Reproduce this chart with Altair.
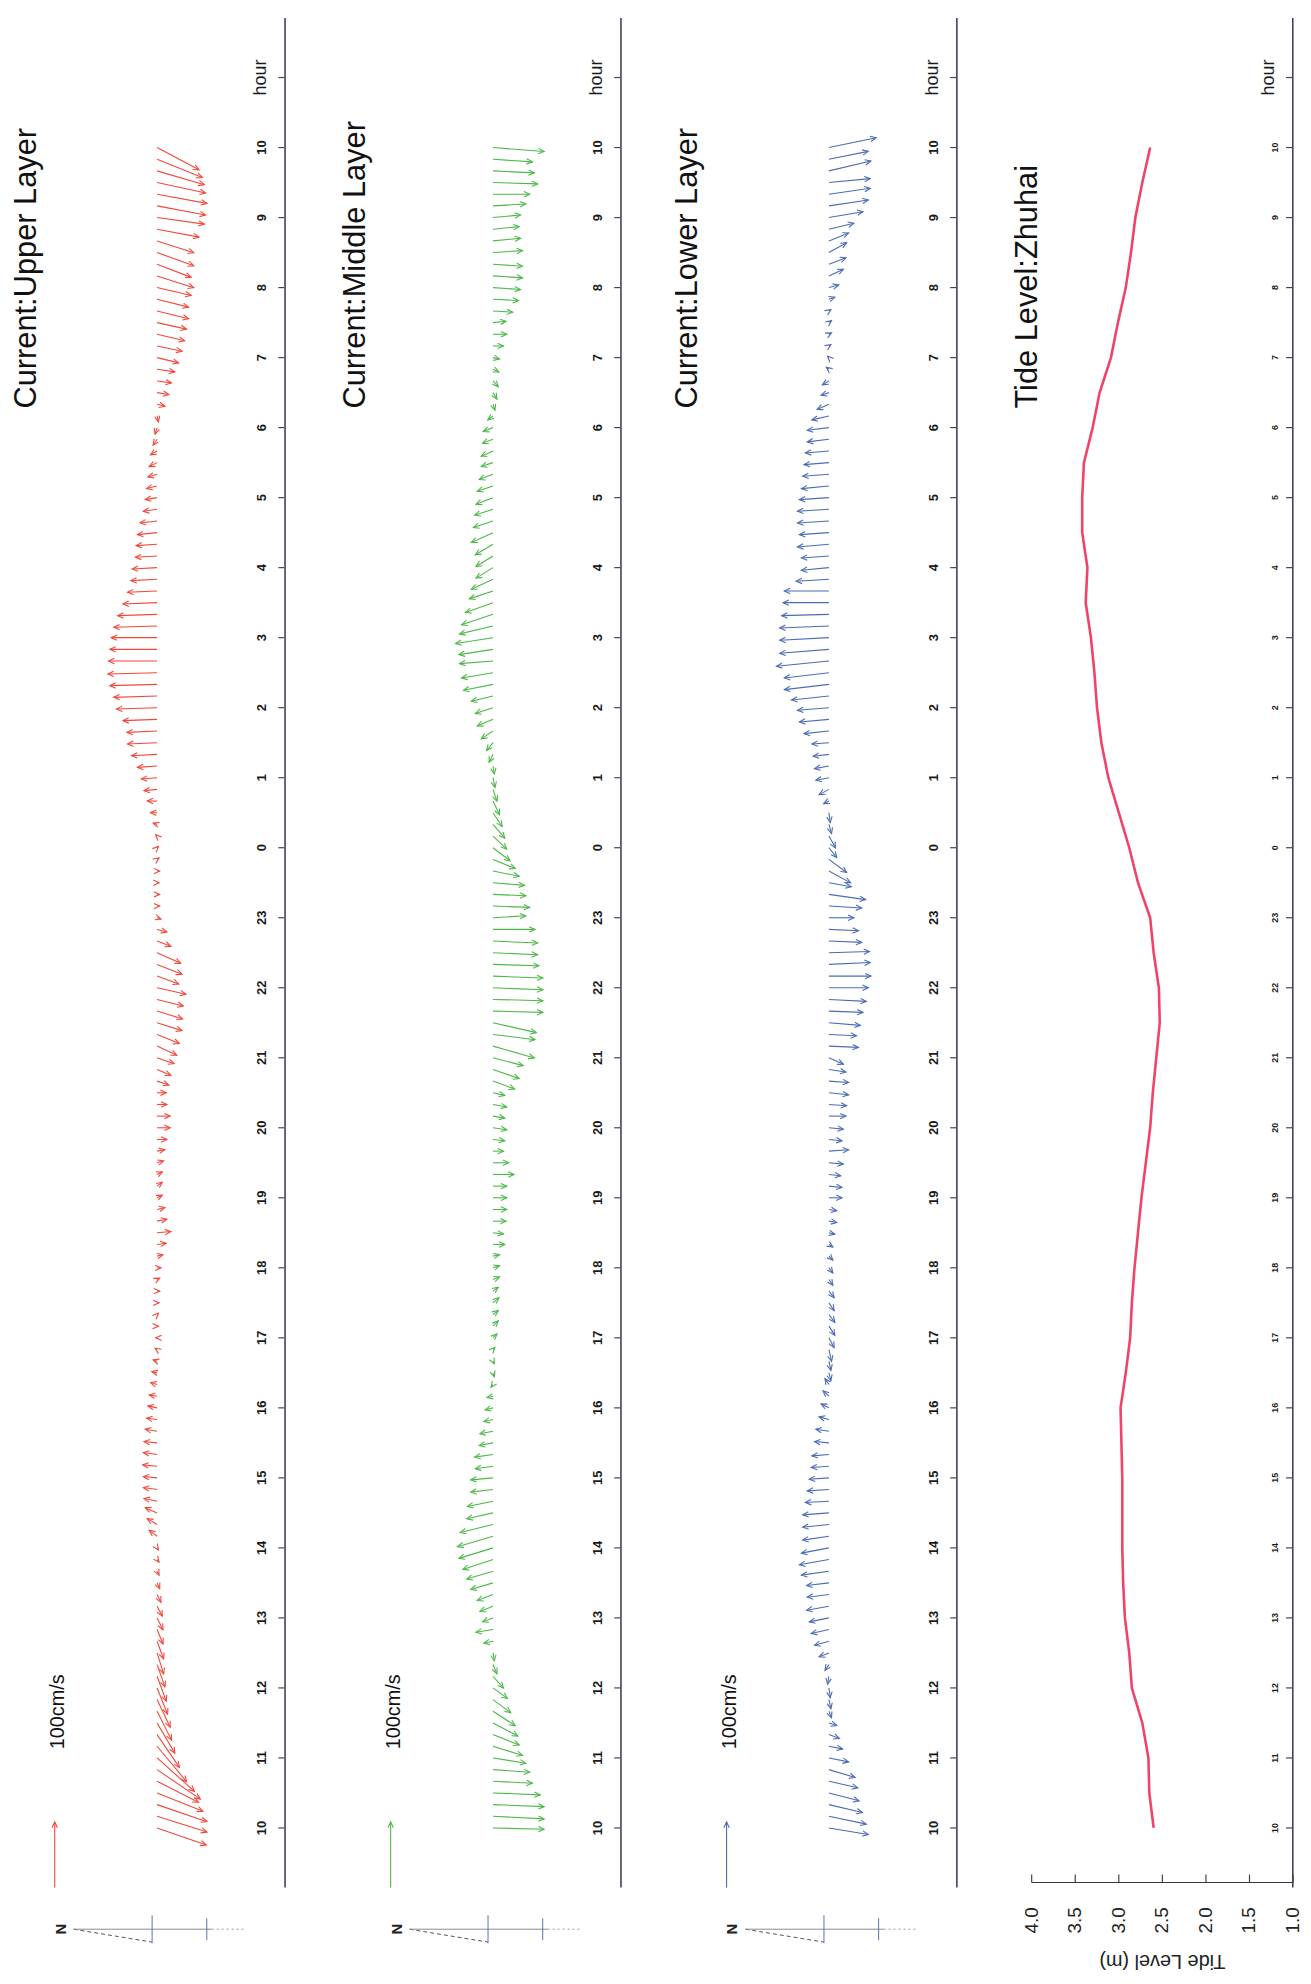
import altair as alt
import pandas as pd

# ---------------- data ----------------
# one stick every 10 minutes, starting 10:00 day 1 (t = 0 h) to 10:00 day 2 (t = 24 h)
# velocity components in cm/s: north (+ = north), east (+ = east)
upper_north = [-75, -76, -76, -70, -63, -66, -57, -45, -34, -27,
               -22, -20, -16, -14, -12, -10, -10, -9, -9, -8,
               -6, -4, -3, -3, -2, 12, 15, 18, 20, 21,
               21, 22, 21, 20, 18, 16, 14, 12, 10, 8,
               6, 3, 2, -2, -2, -3, -4, -4, -6, -9,
               -14, -21, -15, -12, -8, -8, -8, -10, -12, -15,
               -20, -20, -15, -14, -18, -21, -26, -30, -34, -38,
               -39, -40, -44, -33, -38, -36, -21, -15, -6, -4,
               -4, -3, -4, -3, -2, 2, 6, 10, 15, 20,
               24, 30, 39, 45, 46, 52, 62, 66, 72, 75,
               74, 72, 70, 66, 60, 52, 45, 40, 38, 33,
               32, 30, 26, 21, 18, 16, 14, 12, 10, 6,
               3, -2, -12, -18, -22, -27, -33, -38, -42, -45,
               -48, -48, -52, -56, -52, -56, -56, -64, -72, -74,
               -76, -74, -72, -69, -64]
upper_east = [-26, -24, -26, -28, -32, -45, -51, -54, -50, -46,
              -44, -42, -40, -38, -34, -32, -27, -22, -18, -15,
              -12, -9, -6, -4, -3, 9, 9, 8, 4, 3,
              2, 2, 3, 2, 3, 2, 3, 2, 3, 2,
              2, 2, 0, 0, 2, 0, 0, 2, 0, 2,
              2, 2, 3, 3, 4, 6, 4, 3, 2, 0,
              0, 0, 0, 0, -6, -9, -9, -14, -14, -12,
              -12, -10, -10, -12, -15, -16, -8, -4, -2, 0,
              0, 0, 0, 2, 2, 2, 2, 0, 0, -2,
              -2, -2, -2, -2, -2, -2, -2, -2, -2, -2,
              0, 0, 0, -2, -2, -2, -2, -2, -2, -2,
              -2, -3, -3, -3, -3, -4, -4, -6, -6, -9,
              -10, -9, -3, -3, -3, -4, -8, -8, -10, -10,
              -12, -12, -12, -18, -20, -20, -18, -12, -10, -14,
              -14, -16, -21, -28, -34]

middle_north = [-78, -78, -78, -72, -60, -56, -50, -45, -40, -38,
                -34, -27, -22, -16, -6, -2, 14, 26, 16, 20,
                24, 34, 40, 46, 52, 54, 50, 40, 39, 34,
                34, 27, 28, 21, 20, 14, 12, 9, 3, -2,
                -2, -3, -6, -8, -8, -9, -8, -10, -10, -10,
                -18, -16, -20, -21, -21, -21, -32, -24, -16, -18,
                -21, -18, -21, -18, -33, -40, -46, -63, -64, -66,
                -76, -76, -76, -76, -70, -68, -68, -64, -50, -56,
                -50, -48, -40, -34, -26, -21, -18, -14, -10, -6,
                -3, -2, 6, 10, 18, 24, 27, 33, 45, 48,
                51, 52, 57, 51, 48, 42, 36, 33, 26, 26,
                27, 33, 30, 28, 26, 24, 21, 18, 18, 16,
                15, 8, -3, -6, -8, -9, -10, -16, -21, -20,
                -30, -39, -42, -45, -45, -45, -42, -40, -42, -50,
                -56, -68, -63, -60, -78]
middle_east = [-2, -4, -3, -3, -3, -4, -8, -14, -16, -20,
               -22, -20, -16, -18, -14, -12, -3, -4, -6, -8,
               -9, -10, -12, -15, -16, -16, -12, -9, -8, -4,
               -3, -4, -4, -4, -4, -3, -3, -2, -4, -6,
               -4, 3, 6, 8, 6, 8, 6, 4, 3, 2,
               0, -2, 0, 0, 0, 0, 0, 0, 0, -2,
               -3, -3, -4, -4, -12, -14, -12, -18, -8, -15,
               -2, -2, -3, -3, -2, -3, -3, 0, 3, -2,
               -2, -4, -8, -14, -20, -20, -21, -21, -21, -18,
               -15, -12, -12, -12, -12, -10, -9, -8, -9, -8,
               -4, -8, -9, -12, -16, -15, -12, -15, -16, -16,
               -16, -15, -10, -9, -10, -8, -8, -6, -8, -6,
               -6, -6, -9, -10, -9, -4, -2, 0, 0, 2,
               -2, -2, -3, -3, -3, 3, 4, 4, 4, 3,
               0, -2, -3, -4, -6]

lower_north = [-60, -57, -51, -46, -44, -40, -30, -21, -16, -12,
               -4, -3, -2, 2, 6, 15, 22, 27, 30, 34,
               33, 34, 42, 45, 42, 40, 40, 40, 36, 33,
               30, 27, 26, 22, 20, 15, 12, 9, 6, -3,
               -3, -4, -8, -9, -9, -8, -8, -6, -6, -6,
               -6, -9, -12, -12, -20, -20, -18, -22, -30, -20,
               -22, -26, -27, -30, -30, -26, -22, -45, -42, -48,
               -52, -57, -60, -64, -63, -62, -50, -45, -38, -50,
               -56, -34, -33, -27, -12, -10, -4, -2, 8, 15,
               20, 22, 24, 26, 38, 45, 48, 57, 68, 68,
               80, 75, 75, 75, 72, 70, 68, 50, 42, 42,
               48, 45, 48, 48, 45, 42, 40, 38, 36, 33,
               33, 26, 18, 12, 10, 4, 2, -3, -4, -4,
               -3, -9, -15, -22, -26, -27, -30, -38, -52, -60,
               -63, -63, -64, -60, -72]
lower_east = [-10, -12, -12, -12, -10, -12, -6, -4, -6, -4,
              -10, -14, -15, -12, -9, -6, -6, -6, -6, -6,
              -4, -4, -6, -8, -8, -6, -4, -3, -2, -2,
              -2, -2, -2, 2, 3, 4, 6, 8, 9, -12,
              -14, -18, -15, -14, -12, -12, -10, -9, -8, -6,
              -4, -2, -2, -2, 0, -2, -2, -2, 2, -2,
              -2, 0, -2, -3, -2, -4, -10, -2, -2, -4,
              -2, -3, 0, 0, 3, 2, -2, -2, 0, -3,
              -8, -6, -18, -20, -15, -18, -14, -15, -4, -8,
              -4, -4, -3, -2, -4, -4, -4, -6, -8, -8,
              -8, -6, -4, -3, -2, 0, 0, -3, -4, -3,
              -4, -3, -3, -3, -3, -4, -3, -3, -3, -4,
              -4, -6, -8, -4, -6, 3, 2, 2, 2, 3,
              2, 3, 4, 10, 10, 15, 12, 9, 9, 9,
              9, 6, 15, 12, 15]

# tide level at Zhuhai (m), hours after 10:00
tide_time = [0, 0.5, 1, 1.5, 2, 2.5, 3, 3.5, 4, 4.5, 5, 5.5, 6, 6.5, 7, 7.5, 8, 8.5,
             9, 9.5, 10, 10.5, 11, 11.5, 12, 12.5, 13, 13.5, 14, 14.5, 15, 15.5, 16,
             16.5, 17, 17.5, 18, 18.5, 19, 19.5, 20, 20.5, 21, 21.5, 22, 22.5, 23, 23.5, 24]
tide_level = [2.60, 2.65, 2.66, 2.73, 2.85, 2.88, 2.93, 2.95, 2.96, 2.96, 2.96, 2.97, 2.98,
              2.92, 2.87, 2.85, 2.82, 2.78, 2.74, 2.69, 2.64, 2.61, 2.57, 2.53, 2.54, 2.60,
              2.64, 2.78, 2.88, 3.00, 3.12, 3.20, 3.25, 3.28, 3.32, 3.38, 3.36, 3.42, 3.42,
              3.40, 3.30, 3.22, 3.09, 3.01, 2.92, 2.86, 2.81, 2.73, 2.64]
tide_ticks = [1.0, 1.5, 2.0, 2.5, 3.0, 3.5, 4.0]
hour_ticks = list(range(0, 26))   # 10,11,...,23,0,...,10, then "hour"

panels = [
    ("Current:Upper Layer", "#F4473A", upper_north, upper_east, 28),
    ("Current:Middle Layer", "#4DB848", middle_north, middle_east, 21),
    ("Current:Lower Layer", "#4B6CB4", lower_north, lower_east, 17),
]
TIDE_TITLE = "Tide Level:Zhuhai"
TIDE_AXIS_TITLE = "Tide Level (m)"
TIDE_COLOR = "#EF4468"

# ---------------- layout constants ----------------
FONT = "Liberation Sans"
PANEL_W = 279
PANEL_H = 1881
T_DOMAIN = [-0.85, 25.85]
PX_PER_HOUR = PANEL_H / (T_DOMAIN[1] - T_DOMAIN[0])
PX_PER_CMS = 0.66          # 100 cm/s = 66 px
K = PX_PER_CMS / PX_PER_HOUR  # hours per cm/s along the time axis
BASE_X = 150
NORTH_DOMAIN = [-(PANEL_W - BASE_X) / PX_PER_CMS, BASE_X / PX_PER_CMS]
HEAD = "M-0.6,1.3L0,0L0.6,1.3"
HEAD_SIZE = 81
AXIS_COLOR = "#33374a"
TICK_COLOR = "#444444"
TIDE_X0 = 16

y_scale = alt.Scale(domain=T_DOMAIN, nice=False, zero=False)


def time_axis_layers(label_size, pad):
    """Right-hand time axis: line, inward ticks and rotated labels, all through the time scale."""
    hours = alt.Chart(pd.DataFrame({"h": hour_ticks})).transform_calculate(
        lab="datum.h == 25 ? 'hour' : '' + ((datum.h + 10) % 24)")
    ticks = hours.mark_rule(color=TICK_COLOR, strokeWidth=1.2).encode(
        y=alt.Y("h:Q", scale=y_scale, axis=None), y2=alt.Y2("h:Q"),
        x=alt.value(PANEL_W - 7), x2=alt.value(PANEL_W - 1))
    nums = hours.transform_filter("datum.h < 25").mark_text(
        angle=270, align="center", baseline="alphabetic", fontSize=label_size,
        fontWeight="bold", font=FONT, color="#1a1a1a").encode(
        y=alt.Y("h:Q", scale=y_scale, axis=None), x=alt.value(PANEL_W - pad), text="lab:N")
    unit = hours.transform_filter("datum.h == 25").mark_text(
        angle=270, align="center", baseline="alphabetic", fontSize=18,
        font=FONT, color="#1a1a1a").encode(
        y=alt.Y("h:Q", scale=y_scale, axis=None), x=alt.value(PANEL_W - 19), text="lab:N")
    line = alt.Chart(pd.DataFrame({"a": [0]})).mark_rect(
        color=AXIS_COLOR, strokeWidth=0).encode(
        x=alt.value(PANEL_W - 1), x2=alt.value(PANEL_W + 0.5),
        y=alt.value(0), y2=alt.value(PANEL_H))
    return [line, ticks, nums, unit]


def title_layer(text, x):
    return alt.Chart(pd.DataFrame({"label": [text]})).mark_text(
        angle=270, align="left", baseline="alphabetic", fontSize=31, font=FONT, color="#111"
    ).encode(x=alt.value(x), y=alt.value(393), text="label:N")


def current_panel(title, color, north, east, title_x):
    df = pd.DataFrame({"t": [i / 6 for i in range(len(north))], "north": north, "east": east})
    x_scale = alt.Scale(domain=NORTH_DOMAIN, reverse=True, nice=False, zero=False)
    base = alt.Chart(df).transform_calculate(
        zero="0",
        tip_t=f"datum.t + datum.east * {K}",
        ang="(atan2(-datum.north, datum.east) * 180 / PI + 360) % 360",
    )
    sticks = base.mark_rule(color=color, strokeWidth=1.1).encode(
        x=alt.X("zero:Q", scale=x_scale, axis=None),
        x2="north:Q",
        y=alt.Y("t:Q", scale=y_scale, axis=None),
        y2="tip_t:Q",
    )
    heads = base.mark_point(shape=HEAD, filled=False, size=HEAD_SIZE, strokeWidth=1.1,
                            color=color, opacity=1).encode(
        x=alt.X("north:Q", scale=x_scale, axis=None),
        y=alt.Y("tip_t:Q", scale=y_scale, axis=None),
        angle=alt.Angle("ang:Q", scale=None),
    )
    # 100 cm/s reference arrow (eastward), drawn through the time scale
    ref = alt.Chart(pd.DataFrame({"t": [T_DOMAIN[0]], "east": [100]})).transform_calculate(
        tip_t=f"datum.t + datum.east * {K}")
    ref_rule = ref.mark_rule(color=color, strokeWidth=1.1).encode(
        x=alt.value(47), x2=alt.value(47), y=alt.Y("t:Q", scale=y_scale, axis=None), y2="tip_t:Q")
    ref_head = ref.mark_point(shape=HEAD, filled=False, size=HEAD_SIZE, strokeWidth=1.1,
                              color=color, opacity=1).encode(
        x=alt.value(47), y=alt.Y("tip_t:Q", scale=y_scale, axis=None), angle=alt.value(0))
    ref_text = alt.Chart(pd.DataFrame({"label": ["100cm/s"]})).mark_text(
        angle=270, align="left", baseline="alphabetic", fontSize=20, font=FONT, color="#111"
    ).encode(x=alt.value(56), y=alt.value(1742), text="label:N")
    # north indicator below the panel
    n_text = alt.Chart(pd.DataFrame({"label": ["N"]})).mark_text(
        angle=270, align="center", baseline="alphabetic", fontSize=15, fontWeight="bold",
        font=FONT, color="#222").encode(x=alt.value(58), y=alt.value(1923), text="label:N")
    n_dash = alt.Chart(pd.DataFrame({"a": [0]})).mark_rule(
        color="#555", strokeWidth=1, strokeDash=[4, 3]).encode(
        x=alt.value(66), x2=alt.value(145), y=alt.value(1923), y2=alt.value(1936))
    n_line = alt.Chart(pd.DataFrame({"a": [0]})).mark_rule(color="#8a8a9a", strokeWidth=1).encode(
        x=alt.value(66), x2=alt.value(205), y=alt.value(1923), y2=alt.value(1923))
    n_dot = alt.Chart(pd.DataFrame({"a": [0]})).mark_rule(
        color="#9a9aaa", strokeWidth=1, strokeDash=[2, 3]).encode(
        x=alt.value(205), x2=alt.value(240), y=alt.value(1923), y2=alt.value(1923))
    n_tick1 = alt.Chart(pd.DataFrame({"a": [0]})).mark_rule(color="#6070a8", strokeWidth=1).encode(
        x=alt.value(145), x2=alt.value(145), y=alt.value(1909), y2=alt.value(1937))
    n_tick2 = alt.Chart(pd.DataFrame({"a": [0]})).mark_rule(color="#6070a8", strokeWidth=1).encode(
        x=alt.value(200), x2=alt.value(200), y=alt.value(1912), y2=alt.value(1934))
    layers = time_axis_layers(13, 19) + [sticks, heads, ref_rule, ref_head, ref_text, n_text,
                                         n_dash, n_line, n_dot, n_tick1, n_tick2,
                                         title_layer(title, title_x)]
    return alt.layer(*layers).properties(width=PANEL_W, height=PANEL_H)


def tide_panel():
    df = pd.DataFrame({"t": tide_time, "level": tide_level})
    lvl_scale = alt.Scale(domain=[1, 4], range=[PANEL_W, TIDE_X0], nice=False, zero=False)
    line = alt.Chart(df).mark_line(color=TIDE_COLOR, strokeWidth=2.6).encode(
        x=alt.X("level:Q", scale=lvl_scale, axis=None),
        y=alt.Y("t:Q", scale=y_scale, axis=None),
        order="t:Q",
    )
    lv = alt.Chart(pd.DataFrame({"lvl": tide_ticks})).transform_calculate(
        lab="format(datum.lvl, '.1f')")
    lv_ticks = lv.mark_rule(color=TICK_COLOR, strokeWidth=1.2).encode(
        x=alt.X("lvl:Q", scale=lvl_scale, axis=None), x2=alt.X2("lvl:Q"),
        y=alt.value(PANEL_H - 5), y2=alt.value(PANEL_H - 13),
    )
    lv_labels = lv.mark_text(angle=270, align="right", baseline="middle", fontSize=19,
                             font=FONT, color="#222").encode(
        x=alt.X("lvl:Q", scale=lvl_scale, axis=None),
        y=alt.value(PANEL_H + 20), text="lab:N")
    lv_line = alt.Chart(pd.DataFrame({"a": [0]})).mark_rect(
        color=AXIS_COLOR, strokeWidth=0).encode(
        x=alt.value(TIDE_X0), x2=alt.value(PANEL_W),
        y=alt.value(PANEL_H - 5.6), y2=alt.value(PANEL_H - 4.4))
    lv_title = alt.Chart(pd.DataFrame({"label": [TIDE_AXIS_TITLE]})).mark_text(
        angle=180, align="center", baseline="bottom", fontSize=20, font=FONT, color="#222"
    ).encode(x=alt.value((TIDE_X0 + PANEL_W) / 2), y=alt.value(PANEL_H + 64), text="label:N")
    layers = time_axis_layers(9, 15) + [line, lv_line, lv_ticks, lv_labels, lv_title,
                                        title_layer(TIDE_TITLE, 21)]
    return alt.layer(*layers).properties(width=PANEL_W, height=PANEL_H)


charts = [current_panel(*p) for p in panels] + [tide_panel()]
chart = alt.hconcat(*charts, spacing=59, bounds="flush").properties(
    padding={"left": 0, "top": 4, "right": 0, "bottom": 0}
).configure(font=FONT).configure_view(stroke=None)

chart.save("out.html", embed_options={"renderer": "svg", "actions": False})
